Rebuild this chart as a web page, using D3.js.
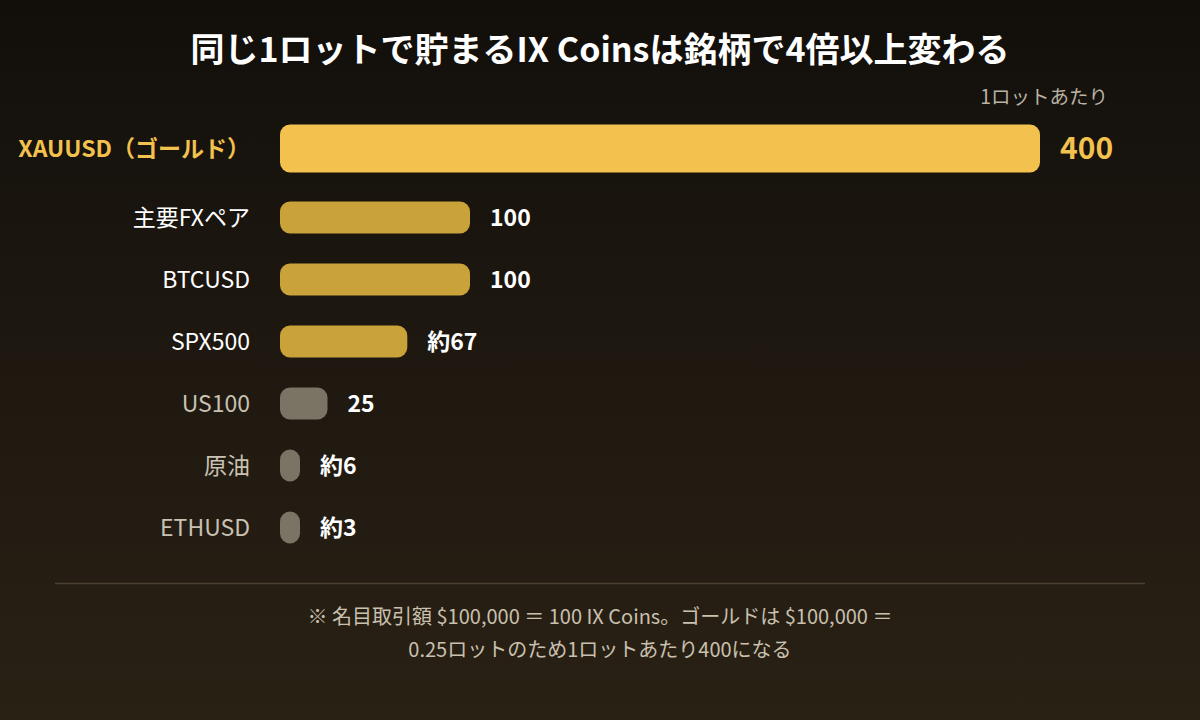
<!DOCTYPE html>
<html><head><meta charset="utf-8">
<script src="https://cdn.jsdelivr.net/npm/d3@7"></script>
<style>html,body{margin:0;padding:0;background:#13100c;}svg{display:block;}</style>
</head><body>
<script>
const categories = ["XAUUSD（ゴールド）","主要FXペア","BTCUSD","SPX500","US100","原油","ETHUSD"];
const values = [400,100,100,67,25,6,3];
const valueLabels = ["400","100","100","約67","25","約6","約3"];
const tiers = ["top","mid","mid","mid","low","low","low"];
const title = "同じ1ロットで貯まるIX Coinsは銘柄で4倍以上変わる";
const unitLabel = "1ロットあたり";
const notes = ["※ 名目取引額 $100,000 ＝ 100 IX Coins。ゴールドは $100,000 ＝","0.25ロットのため1ロットあたり400になる"];

const W=1200,H=720;
const font = "'Noto Sans CJK JP','Noto Sans',sans-serif";
const svg=d3.select("body").append("svg").attr("width",W).attr("height",H);
const defs=svg.append("defs");
const g=defs.append("linearGradient").attr("id","bg").attr("x1",0).attr("y1",0).attr("x2",0).attr("y2",1);
g.append("stop").attr("offset","0%").attr("stop-color","#120f0b");
g.append("stop").attr("offset","100%").attr("stop-color","#2a2115");
svg.append("rect").attr("width",W).attr("height",H).attr("fill","url(#bg)");

svg.append("text").attr("x",600).attr("y",62).attr("text-anchor","middle")
  .attr("font-family",font).attr("font-weight",700).attr("font-size",34).attr("fill","#ffffff").text(title);
svg.append("text").attr("x",1108).attr("y",104).attr("text-anchor","end")
  .attr("font-family",font).attr("font-size",19.5).attr("fill","#b9b1a2").text(unitLabel);

const x=d3.scaleLinear().domain([0,400]).range([280,1040]);
const yRest=d3.scalePoint().domain(categories.slice(1)).range([217.5,527.5]);
const yc=(c,i)=> i===0 ? 148.5 : yRest(c);
const barFill={top:"#f2c14e",mid:"#c9a23a",low:"#7b7364"};
const labFill={top:"#f2c14e",mid:"#ffffff",low:"#c9c1b1"};
const minW=20;
const bw=i=>Math.max(x(values[i])-x(0),minW);

const rows=svg.append("g").selectAll("g").data(categories).join("g");
rows.append("rect")
  .attr("x",x(0))
  .attr("y",(c,i)=>yc(c,i)-(i===0?24:16))
  .attr("height",(c,i)=>i===0?48:32)
  .attr("width",(c,i)=>bw(i))
  .attr("rx",10).attr("ry",10)
  .attr("fill",(c,i)=>barFill[tiers[i]]);
rows.append("text")
  .attr("x",250).attr("y",(c,i)=>yc(c,i)).attr("dy","0.36em").attr("text-anchor","end")
  .attr("font-family",font).attr("font-size",23)
  .attr("font-weight",(c,i)=>i===0?700:400)
  .attr("fill",(c,i)=>labFill[tiers[i]]).text(d=>d);
rows.append("text")
  .attr("x",(c,i)=>x(0)+bw(i)+20)
  .attr("y",(c,i)=>yc(c,i)).attr("dy","0.36em")
  .attr("font-family",font).attr("font-weight",700)
  .attr("font-size",(c,i)=>i===0?30:23)
  .attr("fill",(c,i)=>i===0?"#f2c14e":"#ffffff").text((c,i)=>valueLabels[i]);

svg.append("line").attr("x1",55).attr("x2",1145).attr("y1",583.5).attr("y2",583.5)
  .attr("stroke","#4d4232").attr("stroke-width",1.5);
svg.append("g").selectAll("text").data(notes).join("text")
  .attr("x",600).attr("y",(d,i)=>624+i*33).attr("text-anchor","middle")
  .attr("font-family",font).attr("font-size",20).attr("fill","#c9c0ae").text(d=>d);
</script>
</body></html>
